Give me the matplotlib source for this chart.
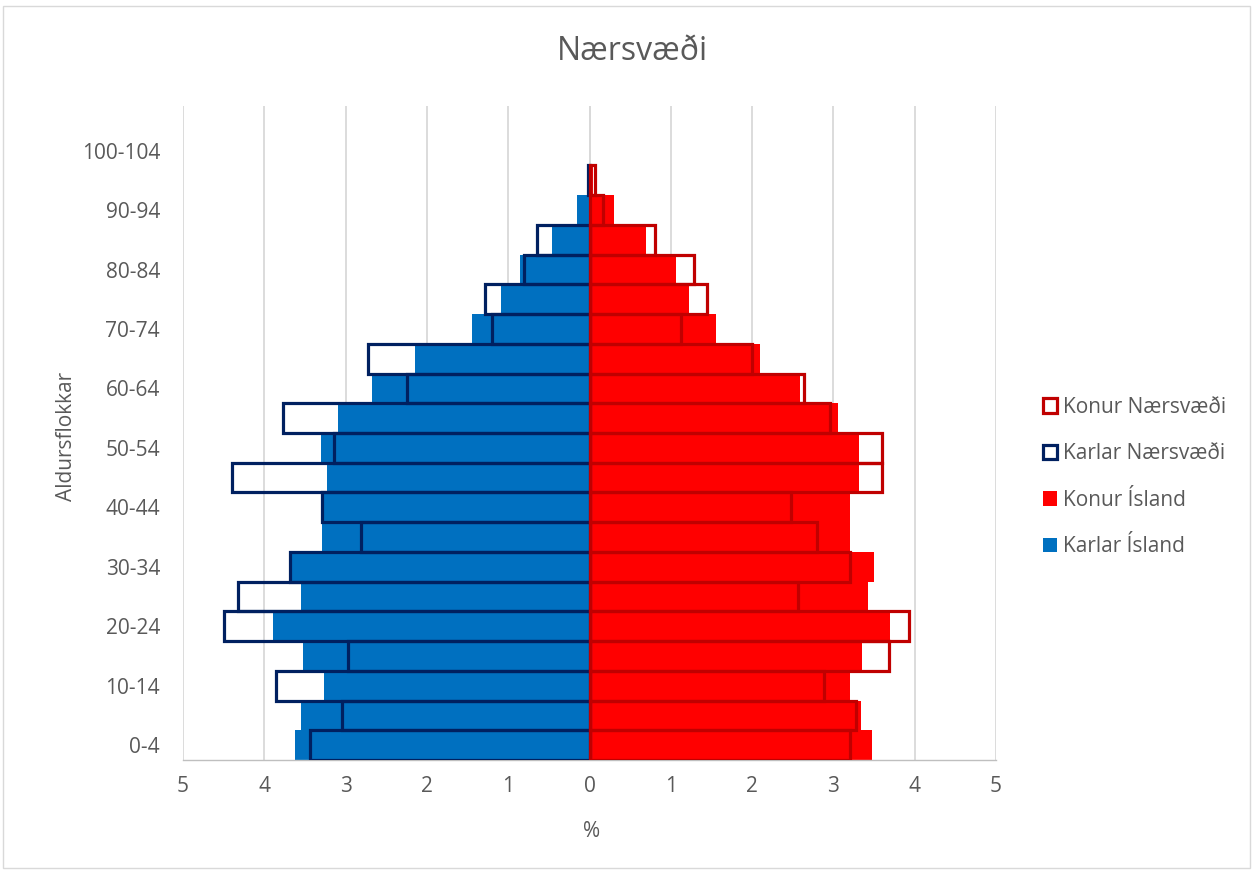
import numpy as np
import matplotlib
matplotlib.use("Agg")
import matplotlib.pyplot as plt
from matplotlib.patches import Patch, Rectangle

plt.rcParams['font.family'] = ['Open Sans', 'DejaVu Sans']

# Age groups (bottom to top)
ages = ['0-4', '5-9', '10-14', '15-19', '20-24', '25-29', '30-34', '35-39',
        '40-44', '45-49', '50-54', '55-59', '60-64', '65-69', '70-74',
        '75-79', '80-84', '85-89', '90-94', '95-99', '100-104']

# Share of population (%) in each age group
karlar_island = [3.62, 3.55, 3.27, 3.53, 3.89, 3.55, 3.67, 3.29, 3.26, 3.23,
                 3.30, 3.09, 2.67, 2.15, 1.44, 1.09, 0.85, 0.46, 0.15, 0.03, 0.0]
konur_island = [3.48, 3.34, 3.21, 3.35, 3.70, 3.42, 3.50, 3.21, 3.20, 3.31,
                3.31, 3.06, 2.59, 2.10, 1.55, 1.23, 1.06, 0.69, 0.30, 0.04, 0.0]
karlar_naer = [3.44, 3.04, 3.85, 2.97, 4.49, 4.32, 3.69, 2.81, 3.29, 4.40,
               3.14, 3.77, 2.24, 2.73, 1.20, 1.28, 0.81, 0.64, 0.0, 0.02, 0.0]
konur_naer = [3.20, 3.28, 2.89, 3.68, 3.93, 2.56, 3.20, 2.80, 2.48, 3.60,
              3.60, 2.96, 2.64, 2.00, 1.12, 1.44, 1.28, 0.80, 0.16, 0.07, 0.0]

x_ticks = [-5, -4, -3, -2, -1, 0, 1, 2, 3, 4, 5]

C_KARL = '#0070C0'
C_KONA = '#FF0000'
C_KARL_N = '#002060'
C_KONA_N = '#C00000'
TXT = '#595959'
GRID = '#D9D9D9'
FS = 15.0
LW = 2.3

W, H = 1253, 872
fig = plt.figure(figsize=(W / 100, H / 100), dpi=100)
ax = fig.add_axes([183 / W, 1 - 760 / H, (996 - 183) / W, (760 - 106) / H])

y = np.arange(len(ages))


def outline_bars(values, sign, color):
    # hollow bars; empty groups get no outline at all
    v = np.array(values)
    keep = v > 0
    ax.barh(y[keep], sign * v[keep], height=1.0, facecolor='none',
            edgecolor=color, linewidth=LW, zorder=4)


ax.barh(y, -np.array(karlar_island), height=1.0, color=C_KARL, zorder=2)
ax.barh(y, np.array(konur_island), height=1.0, color=C_KONA, zorder=2)
ax.axvline(0, color=GRID, lw=1.3, zorder=3)
outline_bars(karlar_naer, -1, C_KARL_N)
outline_bars(konur_naer, 1, C_KONA_N)

ax.set_xlim(-5, 5)
ax.set_ylim(-0.5, len(ages) + 0.5)
ax.set_xticks(x_ticks, [str(abs(t)) for t in x_ticks])
ax.set_yticks(y[::2], ages[::2])
ax.grid(axis='x', color=GRID, lw=1.3)
ax.grid(axis='y', visible=False)
ax.set_axisbelow(True)
for s in ('top', 'right', 'left'):
    ax.spines[s].set_visible(False)
ax.spines['bottom'].set_color('#BFBFBF')
ax.spines['bottom'].set_linewidth(1.0)
ax.tick_params(axis='both', length=0, labelsize=FS, colors=TXT)
ax.tick_params(axis='x', pad=11.5)
ax.tick_params(axis='y', pad=16.5)

ax.set_xlabel('%', fontsize=FS, color=TXT)
ax.xaxis.label.set_va('center')
ax.xaxis.set_label_coords(0.502, -0.110)
ax.set_ylabel('Aldursflokkar', fontsize=FS, color=TXT)
ax.yaxis.label.set_va('center')
ax.yaxis.set_label_coords(-0.143, 0.494)

fig.text(632 / W, 1 - 52 / H, 'Nærsvæði', ha='center', va='center',
         fontsize=23, color=TXT)

handles = [Patch(facecolor='white', edgecolor=C_KONA_N, linewidth=LW),
           Patch(facecolor='white', edgecolor=C_KARL_N, linewidth=LW),
           Patch(facecolor=C_KONA, edgecolor='none'),
           Patch(facecolor=C_KARL, edgecolor='none')]
labels = ['Konur Nærsvæði', 'Karlar Nærsvæði', 'Konur Ísland', 'Karlar Ísland']
fig.legend(handles, labels, loc='center left', bbox_to_anchor=(1043 / W, 1 - 477 / H),
           frameon=False, fontsize=FS, labelcolor=TXT, handlelength=0.68,
           handleheight=0.68, handletextpad=0.3, labelspacing=1.22,
           borderpad=0, borderaxespad=0)

fig.patches.append(Rectangle((3 / W, 4 / H), (1250 - 3) / W, (868 - 6) / H,
                             transform=fig.transFigure, fill=False,
                             edgecolor=GRID, linewidth=1.0))

fig.savefig('out.png', dpi=100)
